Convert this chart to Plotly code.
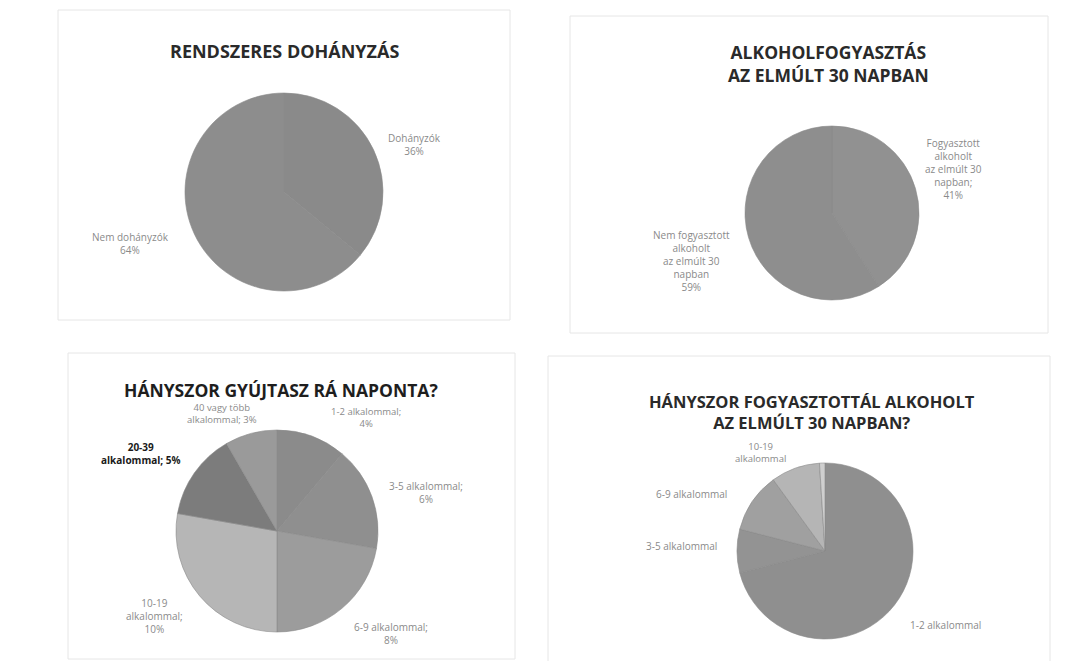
import plotly.graph_objects as go

W, H = 1068, 661

# ---- data ----
smoke_labels = ["Dohányzók", "Nem dohányzók"]
smoke_values = [36, 64]
smoke_colors = ["#8a8a8a", "#8d8d8d"]

alc_labels = ["Fogyasztott alkoholt az elmúlt 30 napban", "Nem fogyasztott alkoholt az elmúlt 30 napban"]
alc_values = [41, 59]
alc_colors = ["#919191", "#8e8e8e"]

cig_labels = ["1-2 alkalommal", "3-5 alkalommal", "6-9 alkalommal", "10-19 alkalommal",
              "20-39 alkalommal", "40 vagy több alkalommal"]
cig_values = [4, 6, 8, 10, 5, 3]
cig_colors = ["#8b8b8b", "#8f8f8f", "#9c9c9c", "#b6b6b6", "#7c7c7c", "#9a9a9a"]

drink_labels = ["1-2 alkalommal", "3-5 alkalommal", "6-9 alkalommal", "10-19 alkalommal", "20 vagy több alkalommal"]
drink_values = [71, 8, 11, 9, 1]
drink_colors = ["#8f8f8f", "#939393", "#a0a0a0", "#b5b5b5", "#cfcfcf"]


def px_dom(cx, cy, r):
    return dict(x=[(cx - r) / W, (cx + r) / W], y=[1 - (cy + r) / H, 1 - (cy - r) / H])


fig = go.Figure()
for labels, values, colors, dom in [
    (smoke_labels, smoke_values, smoke_colors, px_dom(276, 184, 99)),
    (alc_labels, alc_values, alc_colors, px_dom(824, 205, 87)),
    (cig_labels, cig_values, cig_colors, px_dom(269, 523, 101)),
    (drink_labels, drink_values, drink_colors, px_dom(817, 543, 88)),
]:
    fig.add_trace(go.Pie(labels=labels, values=values, sort=False, direction="clockwise",
                         rotation=0, textinfo="none", hoverinfo="label+percent",
                         marker=dict(colors=colors, line=dict(color="#8a8a8a", width=0.6)),
                         domain=dom, showlegend=False))

# panel frames
for x0, y0, x1, y1 in [(50, 2, 502, 312), (562, 8, 1040, 325), (60, 345, 507, 651), (540, 348, 1042, 655)]:
    fig.add_shape(type="rect", xref="paper", yref="paper", x0=x0 / W, x1=x1 / W,
                  y0=1 - y1 / H, y1=1 - y0 / H, line=dict(color="#e6e6e6", width=1))


def ann(text, x, y, size=10, color="#8a8a8a", family="Open Sans"):
    fig.add_annotation(xref="paper", yref="paper", x=x / W, y=1 - y / H, text=text,
                       showarrow=False, xanchor="center", yanchor="middle",
                       font=dict(size=size, color=color, family=family), align="center")


TF = "Open Sans"
ann("<b>RENDSZERES DOHÁNYZÁS</b>", 276, 43, 18, "#2a2a2a", family=TF)
ann("<b>ALKOHOLFOGYASZTÁS<br>AZ ELMÚLT 30 NAPBAN</b>", 820, 56, 17.5, "#2a2a2a", family=TF)
ann("<b>HÁNYSZOR GYÚJTASZ RÁ NAPONTA?</b>", 273, 382, 17.5, "#1e1e1e", family=TF)
ann("<b>HÁNYSZOR FOGYASZTOTTÁL ALKOHOLT<br>AZ ELMÚLT 30 NAPBAN?</b>", 804, 404, 16.5, "#2a2a2a", family=TF)

# data labels
ann(f"{smoke_labels[0]}<br>{smoke_values[0]}%", 406, 136)
ann(f"{smoke_labels[1]}<br>{smoke_values[1]}%", 122, 236)

ann(f"Fogyasztott<br>alkoholt<br>az elmúlt 30<br>napban;<br>{alc_values[0]}%", 945, 161)
ann(f"Nem fogyasztott<br>alkoholt<br>az elmúlt 30<br>napban<br>{alc_values[1]}%", 683, 253)

ann(f"{cig_labels[0]};<br>{cig_values[0]}%", 358, 409, 9.5)
ann(f"{cig_labels[1]};<br>{cig_values[1]}%", 418, 485)
ann(f"{cig_labels[2]};<br>{cig_values[2]}%", 383, 625)
ann(f"10-19<br>alkalommal;<br>{cig_values[3]}%", 146, 608)
ann(f"<b>20-39<br>alkalommal; {cig_values[4]}%</b>", 132, 445, 10, "#1a1a1a")
ann(f"40 vagy több<br>alkalommal; {cig_values[5]}%", 214, 405, 9.5)

ann(drink_labels[0], 937, 617)
ann(drink_labels[1], 673, 538)
ann(drink_labels[2], 683, 486)
ann("10-19<br>alkalommal", 752, 444, 9.5)

fig.update_layout(width=W, height=H, margin=dict(l=0, r=0, t=0, b=0),
                  paper_bgcolor="white", plot_bgcolor="white")
fig.write_html("out.html")
